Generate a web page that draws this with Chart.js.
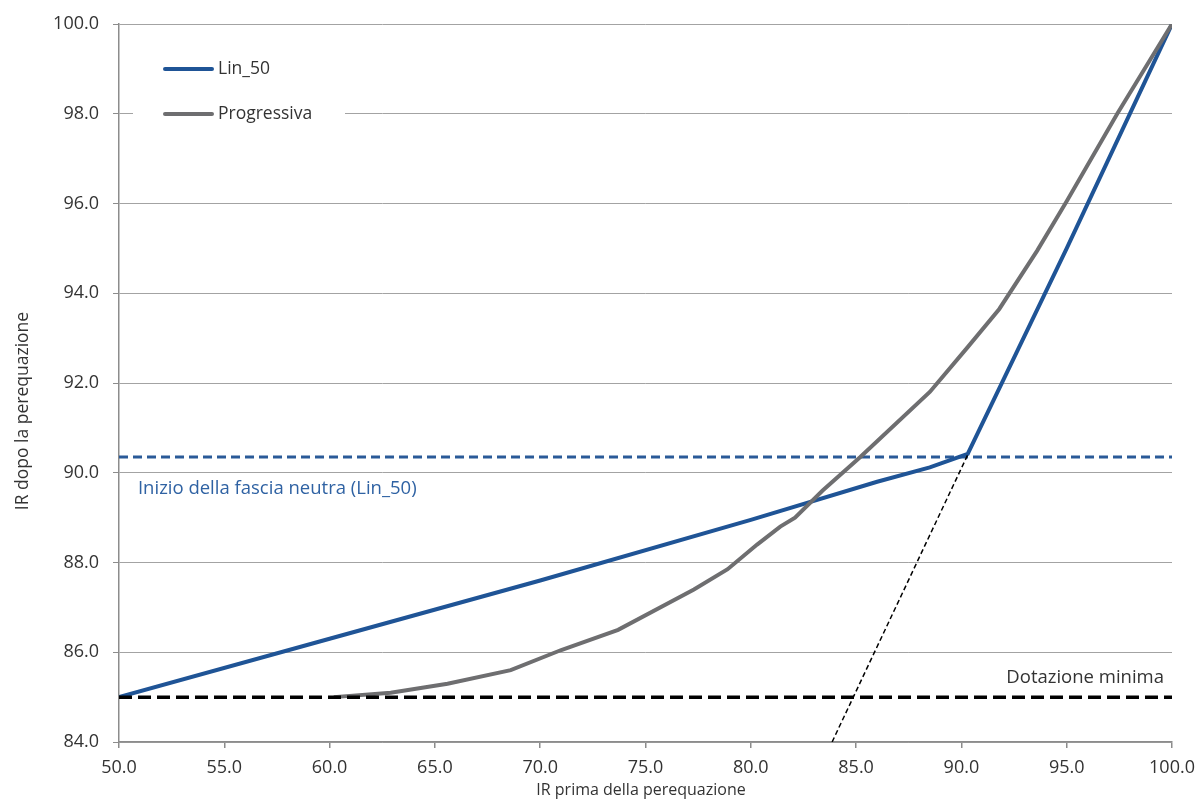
<!DOCTYPE html>
<html>
<head>
<meta charset="utf-8">
<script src="https://cdn.jsdelivr.net/npm/chart.js@4.4.1/dist/chart.umd.min.js"></script>
<style>
  html, body { margin: 0; padding: 0; background: #ffffff; }
  #wrap { width: 1198px; height: 801px; position: relative; }
</style>
</head>
<body>
<div id="wrap"><canvas id="c" width="1198" height="801"></canvas></div>
<script>
// ---- Data ----
const xTitle = 'IR prima della perequazione';
const yTitle = 'IR dopo la perequazione';
const linLabel = 'Lin_50';
const progLabel = 'Progressiva';
const neutralLabel = 'Inizio della fascia neutra (Lin_50)';
const minLabel = 'Dotazione minima';

const linX = [50, 60, 70, 80, 86, 88.5, 90.3, 95, 100];
const linY = [85, 86.3, 87.6, 88.95, 89.8, 90.12, 90.42, 95, 100];

const progX = [60.2, 62.9, 65.6, 68.6, 71.0, 73.7, 77.3, 78.9, 80.3, 81.4, 82.1, 83.4, 85.2, 88.5, 90.3, 91.8, 93.6, 95.0, 97.4, 100];
const progY = [85.0, 85.1, 85.3, 85.6, 86.05, 86.5, 87.4, 87.85, 88.4, 88.8, 89.0, 89.6, 90.35, 91.8, 92.8, 93.65, 94.95, 96.05, 98.0, 100];

const neutralX = [50, 100];
const neutralY = [90.35, 90.35];

const minX = [50, 100];
const minY = [85, 85];

const diagX = [83.86, 90.3];
const diagY = [84, 90.4];

const xMin = 50, xMax = 100, xStep = 5;
const yMin = 84, yMax = 100, yStep = 2;

// ---- Helpers ----
const pts = (xs, ys) => xs.map((x, i) => ({ x: x, y: ys[i] }));

const BLUE = '#1f5496';
const GREY = '#6e6e70';
const TEXT = '#333333';
const FONT = "'Open Sans', 'Noto Sans', sans-serif";

const overlayPlugin = {
  id: 'overlay',
  beforeDatasetsDraw(chart) {
    const ctx = chart.ctx;
    const area = chart.chartArea;
    ctx.save();
    ctx.fillStyle = '#ffffff';
    ctx.fillRect(area.left + 14, area.top + 16, 212, 95);
    ctx.restore();
  },
  afterDraw(chart) {
    const ctx = chart.ctx;
    const area = chart.chartArea;
    const xs = chart.scales.x, ys = chart.scales.y;
    ctx.save();
    const items = [[linLabel, BLUE, 69], [progLabel, GREY, 114]];
    items.forEach(([label, color, y]) => {
      ctx.strokeStyle = color;
      ctx.lineWidth = 4;
      ctx.lineCap = 'round';
      ctx.beginPath();
      ctx.moveTo(165, y);
      ctx.lineTo(212, y);
      ctx.stroke();
      ctx.fillStyle = TEXT;
      ctx.font = '17.5px ' + FONT;
      ctx.textAlign = 'left';
      ctx.textBaseline = 'middle';
      ctx.fillText(label, 218, y);
    });
    ctx.font = '18.5px ' + FONT;
    ctx.textBaseline = 'middle';
    ctx.fillStyle = '#2f62a3';
    ctx.textAlign = 'left';
    ctx.fillText(neutralLabel, xs.getPixelForValue(50.9), ys.getPixelForValue(neutralY[0]) + 32);
    ctx.fillStyle = TEXT;
    ctx.textAlign = 'right';
    ctx.fillText(minLabel, area.right - 8, ys.getPixelForValue(minY[0]) - 19);
    ctx.font = '16px ' + FONT;
    ctx.fillStyle = TEXT;
    ctx.textAlign = 'center';
    ctx.textBaseline = 'middle';
    ctx.fillText(xTitle, 641, 790);
    ctx.font = '17.5px ' + FONT;
    ctx.translate(23, 411);
    ctx.rotate(-Math.PI / 2);
    ctx.fillText(yTitle, 0, 0);
    ctx.restore();
  }
};

new Chart(document.getElementById('c'), {
  type: 'line',
  data: {
    datasets: [
      { label: minLabel, data: pts(minX, minY), borderColor: '#000000', borderWidth: 3.5, borderDash: [13, 6], pointRadius: 0, order: 1 },
      { label: 'diag', data: pts(diagX, diagY), borderColor: '#000000', borderWidth: 1.5, borderDash: [5, 3], pointRadius: 0, order: 0 },
      { label: progLabel, data: pts(progX, progY), borderColor: GREY, borderWidth: 4, pointRadius: 0, order: 2 },
      { label: linLabel, data: pts(linX, linY), borderColor: BLUE, borderWidth: 4, pointRadius: 0, order: 3 },
      { label: neutralLabel, data: pts(neutralX, neutralY), borderColor: '#2a5a98', borderWidth: 3, borderDash: [9, 5], pointRadius: 0, order: 4 }
    ]
  },
  options: {
    responsive: false,
    animation: false,
    devicePixelRatio: 1,
    layout: { padding: { top: 24, right: 26, left: 0, bottom: 0 } },
    plugins: { legend: { display: false }, tooltip: { enabled: false } },
    elements: { line: { tension: 0, fill: false, borderCapStyle: 'butt' } },
    scales: {
      x: {
        type: 'linear', min: xMin, max: xMax,
        afterFit: (s) => { s.height = 59; s.paddingRight = 0; s.paddingLeft = 0; },
        ticks: { stepSize: xStep, callback: (v) => Number(v).toFixed(1), color: TEXT, font: { family: FONT, size: 18 }, padding: 9, maxRotation: 0 },
        grid: { drawOnChartArea: false, drawTicks: true, tickLength: 6, tickColor: '#8c8c8c', lineWidth: 1.5 },
        border: { color: '#8c8c8c', width: 1.5 }
      },
      y: {
        type: 'linear', min: yMin, max: yMax,
        afterFit: (s) => { s.width = 119; s.paddingTop = 0; s.paddingBottom = 0; },
        ticks: { stepSize: yStep, callback: (v) => Number(v).toFixed(1), color: TEXT, font: { family: FONT, size: 18 }, padding: 14 },
        grid: { color: '#a3a3a3', lineWidth: 1, drawTicks: true, tickLength: 6, tickColor: '#8c8c8c' },
        border: { color: '#8c8c8c', width: 1.5 }
      }
    }
  },
  plugins: [overlayPlugin]
});
</script>
</body>
</html>
